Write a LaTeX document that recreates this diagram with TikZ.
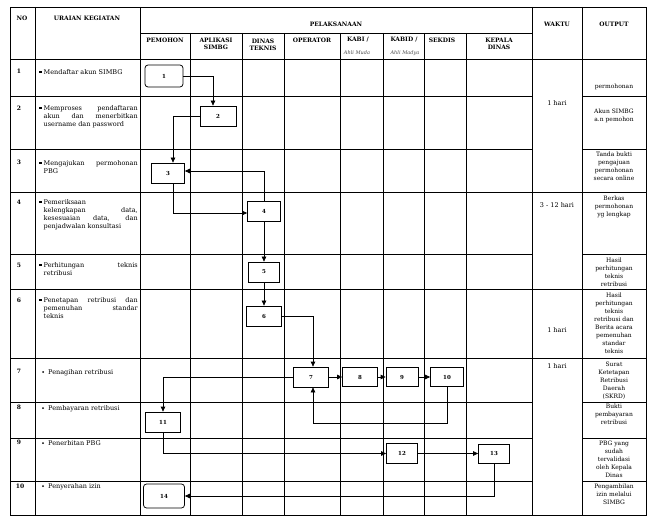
\documentclass[tikz,border=0pt]{standalone}
\usepackage{fontspec}
\setmainfont{DejaVu Serif}
\usetikzlibrary{arrows.meta}
\begin{document}
\begin{tikzpicture}[x=1pt,y=-1pt,
 grid/.style={line width=0.7pt},
 flow/.style={draw, line width=0.75pt, minimum height=20pt, inner sep=0pt, font=\fontsize{5.5}{6.5}\selectfont\bfseries},
 term/.style={flow, rounded corners=3pt},
 arr/.style={line width=0.75pt, -{Triangle[length=5pt,width=4.5pt]}},
 hdr/.style={font=\fontsize{6}{7}\selectfont\bfseries, inner sep=0pt, align=center},
 num/.style={font=\fontsize{6}{7}\selectfont\bfseries, inner sep=0pt},
 desc/.style={anchor=north west, inner sep=0pt, text width=94pt, align=justify, font=\fontsize{6.5}{8}\selectfont},
 descb/.style={desc, text width=89pt},
 outp/.style={anchor=north, inner sep=0pt, align=center, font=\fontsize{6}{8}\selectfont},
 waktu/.style={font=\fontsize{6.5}{7.5}\selectfont, inner sep=0pt},
 hand/.style={font=\fontsize{5}{6}\selectfont\itshape, inner sep=0pt, text=black!70},
 sqb/.style={fill, inner sep=0pt, minimum width=2.2pt, minimum height=1.6pt},
 dotb/.style={fill, circle, inner sep=0pt, minimum size=2pt}]
\useasboundingbox (0,0) rectangle (657,524);
\fill[white] (0,0) rectangle (657,524);
% table grid
\draw[grid] (10,7) rectangle (646,515);
\foreach \x in {35,140,532,582} \draw[grid] (\x,7) -- (\x,515);
\draw[grid] (140,33) -- (532,33);
\foreach \x in {190,242,284,340,383,424,466} \draw[grid] (\x,33) -- (\x,515);
\draw[grid] (10,59) -- (646,59);
\foreach \y in {192,289,358} \draw[grid] (10,\y) -- (646,\y);
\foreach \y in {96,149,254,402,438,481} {\draw[grid] (10,\y) -- (532,\y); \draw[grid] (582,\y) -- (646,\y);}
% headers
\node[hdr] (hno) at (22,18) {NO};
\node[hdr] (hur) at (87,18) {URAIAN KEGIATAN};
\node[hdr] (hpel) at (336,24) {PELAKSANAAN};
\node[hdr] (hwak) at (557,24) {WAKTU};
\node[hdr] (hout) at (614,24) {OUTPUT};
\node[hdr] (hpem) at (165,40) {PEMOHON};
\node[hdr] (hapl) at (216,44) {APLIKASI\\SIMBG};
\node[hdr] (hdin) at (263,45) {DINAS\\TEKNIS};
\node[hdr] (hope) at (312,40) {OPERATOR};
\node[hdr] (hkabi) at (358,40) {KABI /};
\node[hdr] (hkabid) at (404,40) {KABID /};
\node[hdr] (hsek) at (442,40) {SEKDIS};
\node[hdr] (hkep) at (499,44) {KEPALA\\DINAS};
\node[hand] (hw1) at (357,53) {Ahli Muda};
\node[hand] (hw2) at (405,53) {Ahli Madya};
% numbers
\node[num] (r1) at (19,71) {1};
\node[num] (r2) at (19,108) {2};
\node[num] (r3) at (19,162) {3};
\node[num] (r4) at (19,202) {4};
\node[num] (r5) at (19,265) {5};
\node[num] (r6) at (19,300) {6};
\node[num] (r7) at (19,371) {7};
\node[num] (r8) at (19,407) {8};
\node[num] (r9) at (19,442) {9};
\node[num] (r10) at (20,486) {10};
% descriptions
\node[sqb] (b1) at (40.5,72) {};
\node[desc] (d1) at (43.5,69) {Mendaftar akun SIMBG};
\node[sqb] (b2) at (40.5,108) {};
\node[desc] (d2) at (43.5,105) {Memproses pendaftaran\linebreak akun dan menerbitkan\linebreak username dan password};
\node[sqb] (b3) at (40.5,163) {};
\node[desc] (d3) at (43.5,160) {Mengajukan permohonan\linebreak PBG};
\node[sqb] (b4) at (40.5,202) {};
\node[desc] (d4) at (43.5,199) {Pemeriksaan\newline kelengkapan data,\linebreak kesesuaian data, dan\linebreak penjadwalan konsultasi};
\node[sqb] (b5) at (40.5,265) {};
\node[desc] (d5) at (43.5,262) {Perhitungan teknis\linebreak retribusi};
\node[sqb] (b6) at (40.5,300) {};
\node[desc] (d6) at (43.5,297) {Penetapan retribusi dan\linebreak pemenuhan standar\linebreak teknis};
\node[dotb] (b7) at (43,372) {};
\node[descb] (d7) at (48,369) {Penagihan retribusi};
\node[dotb] (b8) at (43,408) {};
\node[descb] (d8) at (48,405) {Pembayaran retribusi};
\node[dotb] (b9) at (43,443) {};
\node[descb] (d9) at (48,440) {Penerbitan PBG};
\node[dotb] (b10) at (43,486) {};
\node[descb] (d10) at (48,483) {Penyerahan izin};
% waktu
\node[waktu] (w1) at (557,103) {1 hari};
\node[waktu] (w2) at (557,205) {3 - 12 hari};
\node[waktu] (w3) at (557,330) {1 hari};
\node[waktu] (w4) at (557,366) {1 hari};
% output
\node[outp] (o1) at (614,84) {permohonan};
\node[outp] (o2) at (614,109) {Akun SIMBG\\a.n pemohon};
\node[outp] (o3) at (614,152) {Tanda bukti\\pengajuan\\permohonan\\secara online};
\node[outp] (o4) at (614,196) {Berkas\\permohonan\\yg lengkap};
\node[outp] (o5) at (614,258) {Hasil\\perhitungan\\teknis\\retribusi};
\node[outp] (o6) at (614,293) {Hasil\\perhitungan\\teknis\\retribusi dan\\Berita acara\\pemenuhan\\standar\\teknis};
\node[outp] (o7) at (614,362) {Surat\\Ketetapan\\Retribusi\\Daerah\\(SKRD)};
\node[outp] (o8) at (614,404) {Bukti\\pembayaran\\retribusi};
\node[outp] (o9) at (614,441) {PBG yang\\sudah\\tervalidasi\\oleh Kepala\\Dinas};
\node[outp] (o10) at (614,484) {Pengambilan\\izin melalui\\SIMBG};
% flow nodes
\node[term, minimum width=38pt, minimum height=22pt] (n1) at (164,76) {1};
\node[flow, minimum width=36pt] (n2) at (218,116) {2};
\node[flow, minimum width=33pt] (n3) at (168,173) {3};
\node[flow, minimum width=33pt] (n4) at (264,211) {4};
\node[flow, minimum width=31pt] (n5) at (264,272) {5};
\node[flow, minimum width=35pt] (n6) at (264,316) {6};
\node[flow, minimum width=35pt] (n7) at (311,377) {7};
\node[flow, minimum width=35pt, minimum height=19pt] (n8) at (360,377) {8};
\node[flow, minimum width=32pt, minimum height=19pt] (n9) at (402,377) {9};
\node[flow, minimum width=33pt, minimum height=19pt] (n10) at (447,377) {10};
\node[flow, minimum width=35pt] (n11) at (163,422) {11};
\node[flow, minimum width=31pt] (n12) at (402,453.5) {12};
\node[flow, minimum width=31pt, minimum height=19pt] (n13) at (494,453.5) {13};
\node[term, minimum width=41pt, minimum height=24pt] (n14) at (164,496) {14};
% connectors
\coordinate (lp) at (0,423);
\draw[arr] (n1.east) -| ([xshift=-5pt]n2.north);
\draw[arr] (n2.west) -| ([xshift=5pt]n3.north);
\draw[arr] (n4.north) |- ([yshift=2pt]n3.east);
\draw[arr] ([xshift=5pt]n3.south) |- ([yshift=-2pt]n4.west);
\draw[arr] (n4) -- (n5);
\draw[arr] (n5) -- (n6);
\draw[arr] (n6.east) -| ([xshift=2pt]n7.north);
\draw[arr] (n7) -- (n8);
\draw[arr] (n8) -- (n9);
\draw[arr] (n9) -- (n10);
\draw[arr] (n10.south) -- (n10.south |- lp) -| ([xshift=2pt]n7.south);
\draw[arr] (n7.west) -| (n11.north);
\draw[arr] (n11.south) |- (n12.west);
\draw[arr] (n12) -- (n13);
\draw[arr] (n13.south) |- (n14.east);
\end{tikzpicture}
\end{document}
